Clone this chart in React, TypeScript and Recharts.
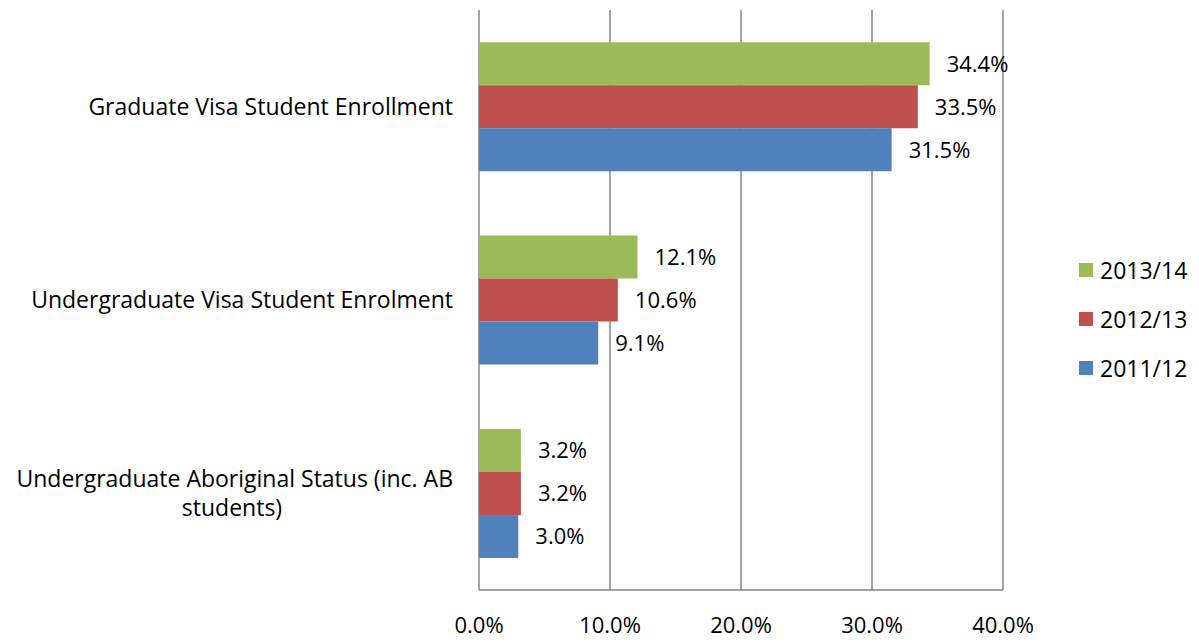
import React from 'react';
import { BarChart, Bar, XAxis, YAxis, CartesianGrid, LabelList, Legend } from 'recharts';

const categories = [
  'Graduate Visa Student Enrollment',
  'Undergraduate Visa Student Enrolment',
  'Undergraduate Aboriginal Status (inc. AB students)',
];
const categoryLines: string[][] = [
  ['Graduate Visa Student Enrollment'],
  ['Undergraduate Visa Student Enrolment'],
  ['Undergraduate Aboriginal Status (inc. AB', 'students)'],
];
const series2013_14 = [34.4, 12.1, 3.2];
const series2012_13 = [33.5, 10.6, 3.2];
const series2011_12 = [31.5, 9.1, 3.0];
const seriesNames = ['2013/14', '2012/13', '2011/12'];
const seriesColors = ['#9BBB59', '#C0504D', '#4F81BD'];
const xTicks = [0, 10, 20, 30, 40];

const data = categories.map((c, i) => ({
  name: c,
  idx: i,
  s0: series2013_14[i],
  s1: series2012_13[i],
  s2: series2011_12[i],
}));

const FONT = "'Open Sans', sans-serif";
const FS = 23;
const FSN = 22;

const YTick = (props: any) => {
  const { x, y, payload } = props;
  const i = categories.indexOf(payload.value);
  const lines = categoryLines[i] || [payload.value];
  const lh = 29;
  if (lines.length === 1) {
    return (
      <text x={x} y={y} dy="0.35em" textAnchor="end" fontFamily={FONT} fontSize={FS} fill="#000">
        {lines[0]}
      </text>
    );
  }
  const startY = y - ((lines.length - 1) * lh) / 2;
  return (
    <g>
      <text x={x} y={startY} dy="0.35em" textAnchor="end" fontFamily={FONT} fontSize={FS} fill="#000">
        {lines[0]}
      </text>
      {lines.slice(1).map((l, k) => (
        <text key={k} x={232} y={startY + (k + 1) * lh} dy="0.35em" textAnchor="middle" fontFamily={FONT} fontSize={FS} fill="#000">
          {l}
        </text>
      ))}
    </g>
  );
};

const LegendContent = () => (
  <div style={{ fontFamily: FONT, fontSize: FS, color: '#000' }}>
    {seriesNames.map((n, i) => (
      <div key={n} style={{ display: 'flex', alignItems: 'center', height: 49 }}>
        <span style={{ display: 'inline-block', width: 14, height: 14, background: seriesColors[i], marginRight: 7 }} />
        <span>{n}</span>
      </div>
    ))}
  </div>
);

const fmt = (v: any) => `${Number(v).toFixed(1)}%`;

export default function App() {
  return (
    <div style={{ position: 'absolute', left: 0, top: 0, width: 1199, height: 644, background: '#fff' }}>
      <BarChart
        width={1199}
        height={644}
        data={data}
        layout="vertical"
        margin={{ top: 10, right: 196, bottom: 0, left: 0 }}
        barCategoryGap="16.7%"
        barGap={0}
        style={{ fontFamily: FONT, fontSize: FS }}
      >
        <CartesianGrid horizontal={false} vertical stroke="#868686" strokeWidth={1.5} />
        <XAxis
          type="number"
          domain={[0, 40]}
          ticks={xTicks}
          tickFormatter={fmt}
          axisLine={{ stroke: '#868686', strokeWidth: 1.5 }}
          tickLine={false}
          tickSize={0}
          tickMargin={27}
          height={54}
          tick={{ fontFamily: FONT, fontSize: FSN, fill: '#000' }}
          interval={0}
        />
        <YAxis
          type="category"
          dataKey="name"
          width={479}
          axisLine={false}
          tickLine={false}
          tickSize={0}
          tickMargin={26}
          tick={<YTick />}
          interval={0}
        />
        <Legend
          layout="horizontal"
          align="center"
          verticalAlign="middle"
          content={<LegendContent />}
          wrapperStyle={{ position: 'absolute', left: 1079, top: 245, width: 120 }}
        />
        {['s0', 's1', 's2'].map((k, i) => (
          <Bar key={k} dataKey={k} name={seriesNames[i]} fill={seriesColors[i]} isAnimationActive={false}>
            <LabelList dataKey={k} position="right" offset={17} formatter={fmt} fontFamily={FONT} fontSize={FSN} fill="#000" />
          </Bar>
        ))}
      </BarChart>
    </div>
  );
}
